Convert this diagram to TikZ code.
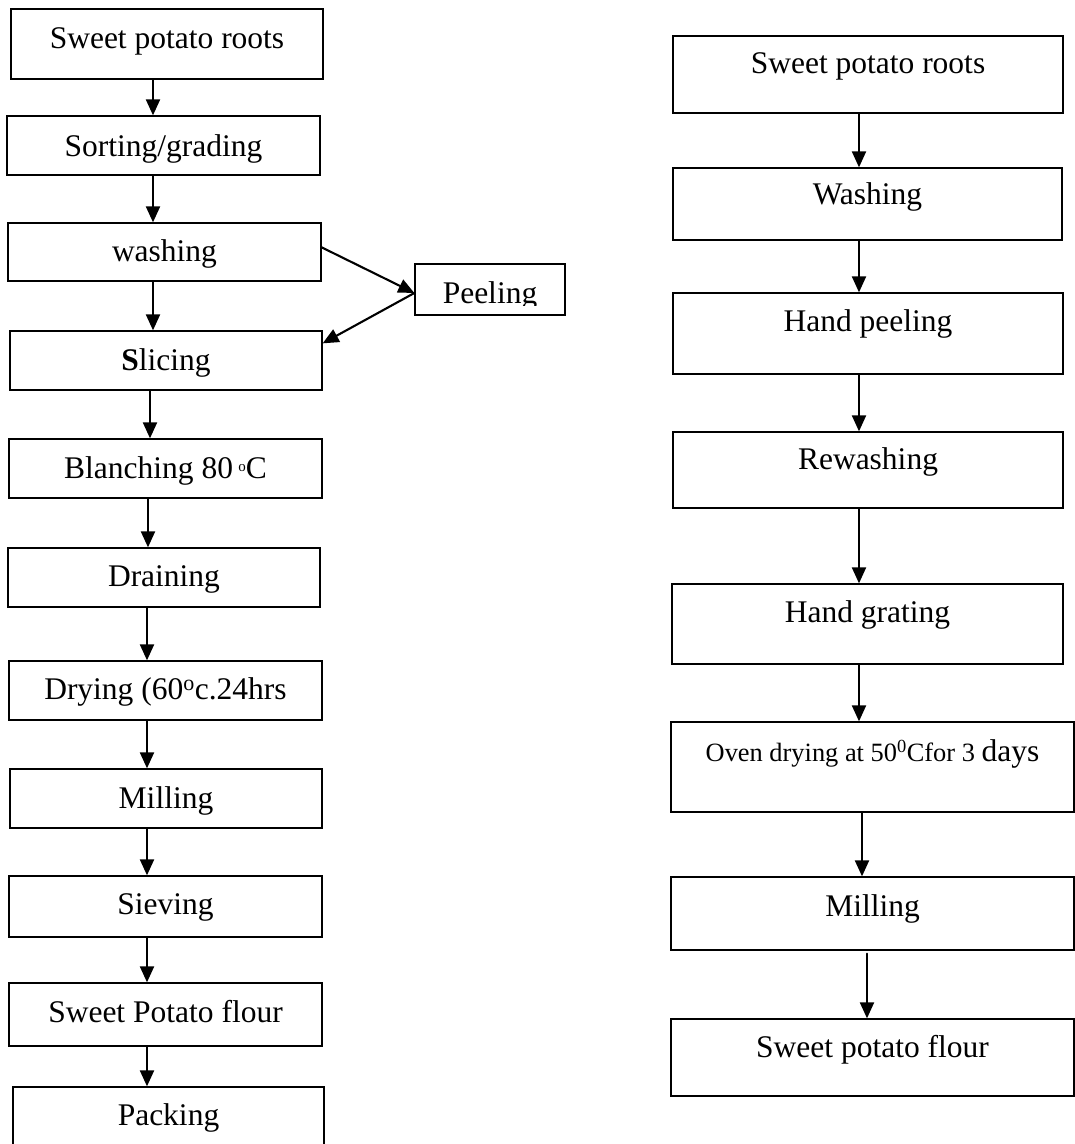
\documentclass[tikz,border=0pt]{standalone}
\usepackage{fontspec}
\setmainfont{Liberation Serif}
\usetikzlibrary{arrows.meta}

\begin{document}
\begin{tikzpicture}[line cap=round,>={Triangle[length=16pt,width=14pt]},x=1.0pt,y=-1.0pt,
	box/.style={draw,line width=1.3pt,inner sep=0pt},
	txt/.style={anchor=base,inner sep=0pt,font=\fontsize{31.5}{36}\selectfont},
	flow/.style={->,line width=2.1pt}]
	\path[use as bounding box,clip] (0,0) rectangle (1075,1144);
	% left column
	\node[box,minimum width=312pt,minimum height=70pt] (l1) at (167,44) {};
	\node[box,minimum width=313pt,minimum height=59pt] (l2) at (163.5,145.5) {};
	\node[box,minimum width=313pt,minimum height=58pt] (l3) at (164.5,252) {};
	\node[box,minimum width=312pt,minimum height=59pt] (l4) at (166,360.5) {};
	\node[box,minimum width=150pt,minimum height=51pt] (peel) at (490,289.5) {};
	\node[box,minimum width=313pt,minimum height=59pt] (l5) at (165.5,468.5) {};
	\node[box,minimum width=312pt,minimum height=59pt] (l6) at (164,577.5) {};
	\node[box,minimum width=313pt,minimum height=59pt] (l7) at (165.5,690.5) {};
	\node[box,minimum width=312pt,minimum height=59pt] (l8) at (166,798.5) {};
	\node[box,minimum width=313pt,minimum height=61pt] (l9) at (165.5,906.5) {};
	\node[box,minimum width=313pt,minimum height=63pt] (l10) at (165.5,1014.5) {};
	\node[box,minimum width=311pt,minimum height=76pt] (l11) at (168.5,1125) {};
	\node[txt] (l1t) at ([yshift=-40pt]l1.north) {Sweet potato roots};
	\node[txt] (l2t) at ([yshift=-41pt]l2.north) {Sorting/grading};
	\node[txt] (l3t) at ([yshift=-39pt]l3.north) {washing};
	\node[txt] (l4t) at ([yshift=-40pt]l4.north) {\textbf{S}licing};
	\node[txt] (l5t) at ([yshift=-40pt]l5.north) {Blanching 80\,\raisebox{7pt}{\fontsize{15}{15}\selectfont o}C};
	\node[txt] (l6t) at ([yshift=-39pt]l6.north) {Draining};
	\node[txt] (l7t) at ([yshift=-39pt]l7.north) {Drying (60\textsuperscript{o}c.24hrs};
	\node[txt] (l8t) at ([yshift=-40pt]l8.north) {Milling};
	\node[txt] (l9t) at ([yshift=-39pt]l9.north) {Sieving};
	\node[txt] (l10t) at ([yshift=-40pt]l10.north) {Sweet Potato flour};
	\node[txt] (l11t) at ([yshift=-39pt]l11.north) {Packing};
	\begin{scope}
		\clip (peel.north west) rectangle ([yshift=10pt]peel.south east);
		\node[txt] (peelt) at ([yshift=-40pt]peel.north) {Peeling};
	\end{scope}
	\draw[flow] (l1.south -| 153,0) -- (l2.north -| 153,0);
	\draw[flow] (l2.south -| 153,0) -- (l3.north -| 153,0);
	\draw[flow] (l3.south -| 153,0) -- (l4.north -| 153,0);
	\draw[flow] ([yshift=-25pt]l3.north east) -- ([yshift=-3.5pt]peel.west);
	\draw[flow] ([yshift=-3.5pt]peel.west) -- ([yshift=-13pt]l4.north east);
	\draw[flow] (l4.south -| 150,0) -- (l5.north -| 150,0);
	\draw[flow] (l5.south -| 148,0) -- (l6.north -| 148,0);
	\draw[flow] (l6.south -| 147,0) -- (l7.north -| 147,0);
	\draw[flow] (l7.south -| 147,0) -- (l8.north -| 147,0);
	\draw[flow] (l8.south -| 147,0) -- (l9.north -| 147,0);
	\draw[flow] (l9.south -| 147,0) -- (l10.north -| 147,0);
	\draw[flow] (l10.south -| 147,0) -- (l11.north -| 147,0);
	% right column
	\node[box,minimum width=390pt,minimum height=77pt] (r1) at (868,74.5) {};
	\node[box,minimum width=389pt,minimum height=72pt] (r2) at (867.5,204) {};
	\node[box,minimum width=390pt,minimum height=81pt] (r3) at (868,333.5) {};
	\node[box,minimum width=390pt,minimum height=76pt] (r4) at (868,470) {};
	\node[box,minimum width=391pt,minimum height=80pt] (r5) at (867.5,624) {};
	\node[box,minimum width=403pt,minimum height=90pt] (r6) at (872.5,767) {};
	\node[box,minimum width=403pt,minimum height=73pt] (r7) at (872.5,913.5) {};
	\node[box,minimum width=403pt,minimum height=77pt] (r8) at (872.5,1057.5) {};
	\node[txt] (r1t) at ([yshift=-38pt]r1.north) {Sweet potato roots};
	\node[txt] (r2t) at ([yshift=-37pt]r2.north) {Washing};
	\node[txt] (r3t) at ([yshift=-39pt]r3.north) {Hand peeling};
	\node[txt] (r4t) at ([yshift=-38pt]r4.north) {Rewashing};
	\node[txt] (r5t) at ([yshift=-39pt]r5.north) {Hand grating};
	\node[txt,font=\fontsize{26.4}{30}\selectfont] (r6t) at ([yshift=-40pt]r6.north) {Oven drying at 50\textsuperscript{0}Cfor 3 {\fontsize{31.5}{36}\selectfont days}};
	\node[txt] (r7t) at ([yshift=-40pt]r7.north) {Milling};
	\node[txt] (r8t) at ([yshift=-39pt]r8.north) {Sweet potato flour};
	\draw[flow] (r1.south -| 859,0) -- (r2.north -| 859,0);
	\draw[flow] (r2.south -| 859,0) -- (r3.north -| 859,0);
	\draw[flow] (r3.south -| 859,0) -- (r4.north -| 859,0);
	\draw[flow] (r4.south -| 859,0) -- (r5.north -| 859,0);
	\draw[flow] (r5.south -| 859,0) -- (r6.north -| 859,0);
	\draw[flow] (r6.south -| 862,0) -- (r7.north -| 862,0);
	\draw[flow] ([yshift=-3pt]r7.south -| 867,0) -- (r8.north -| 867,0);
\end{tikzpicture}
\end{document}
